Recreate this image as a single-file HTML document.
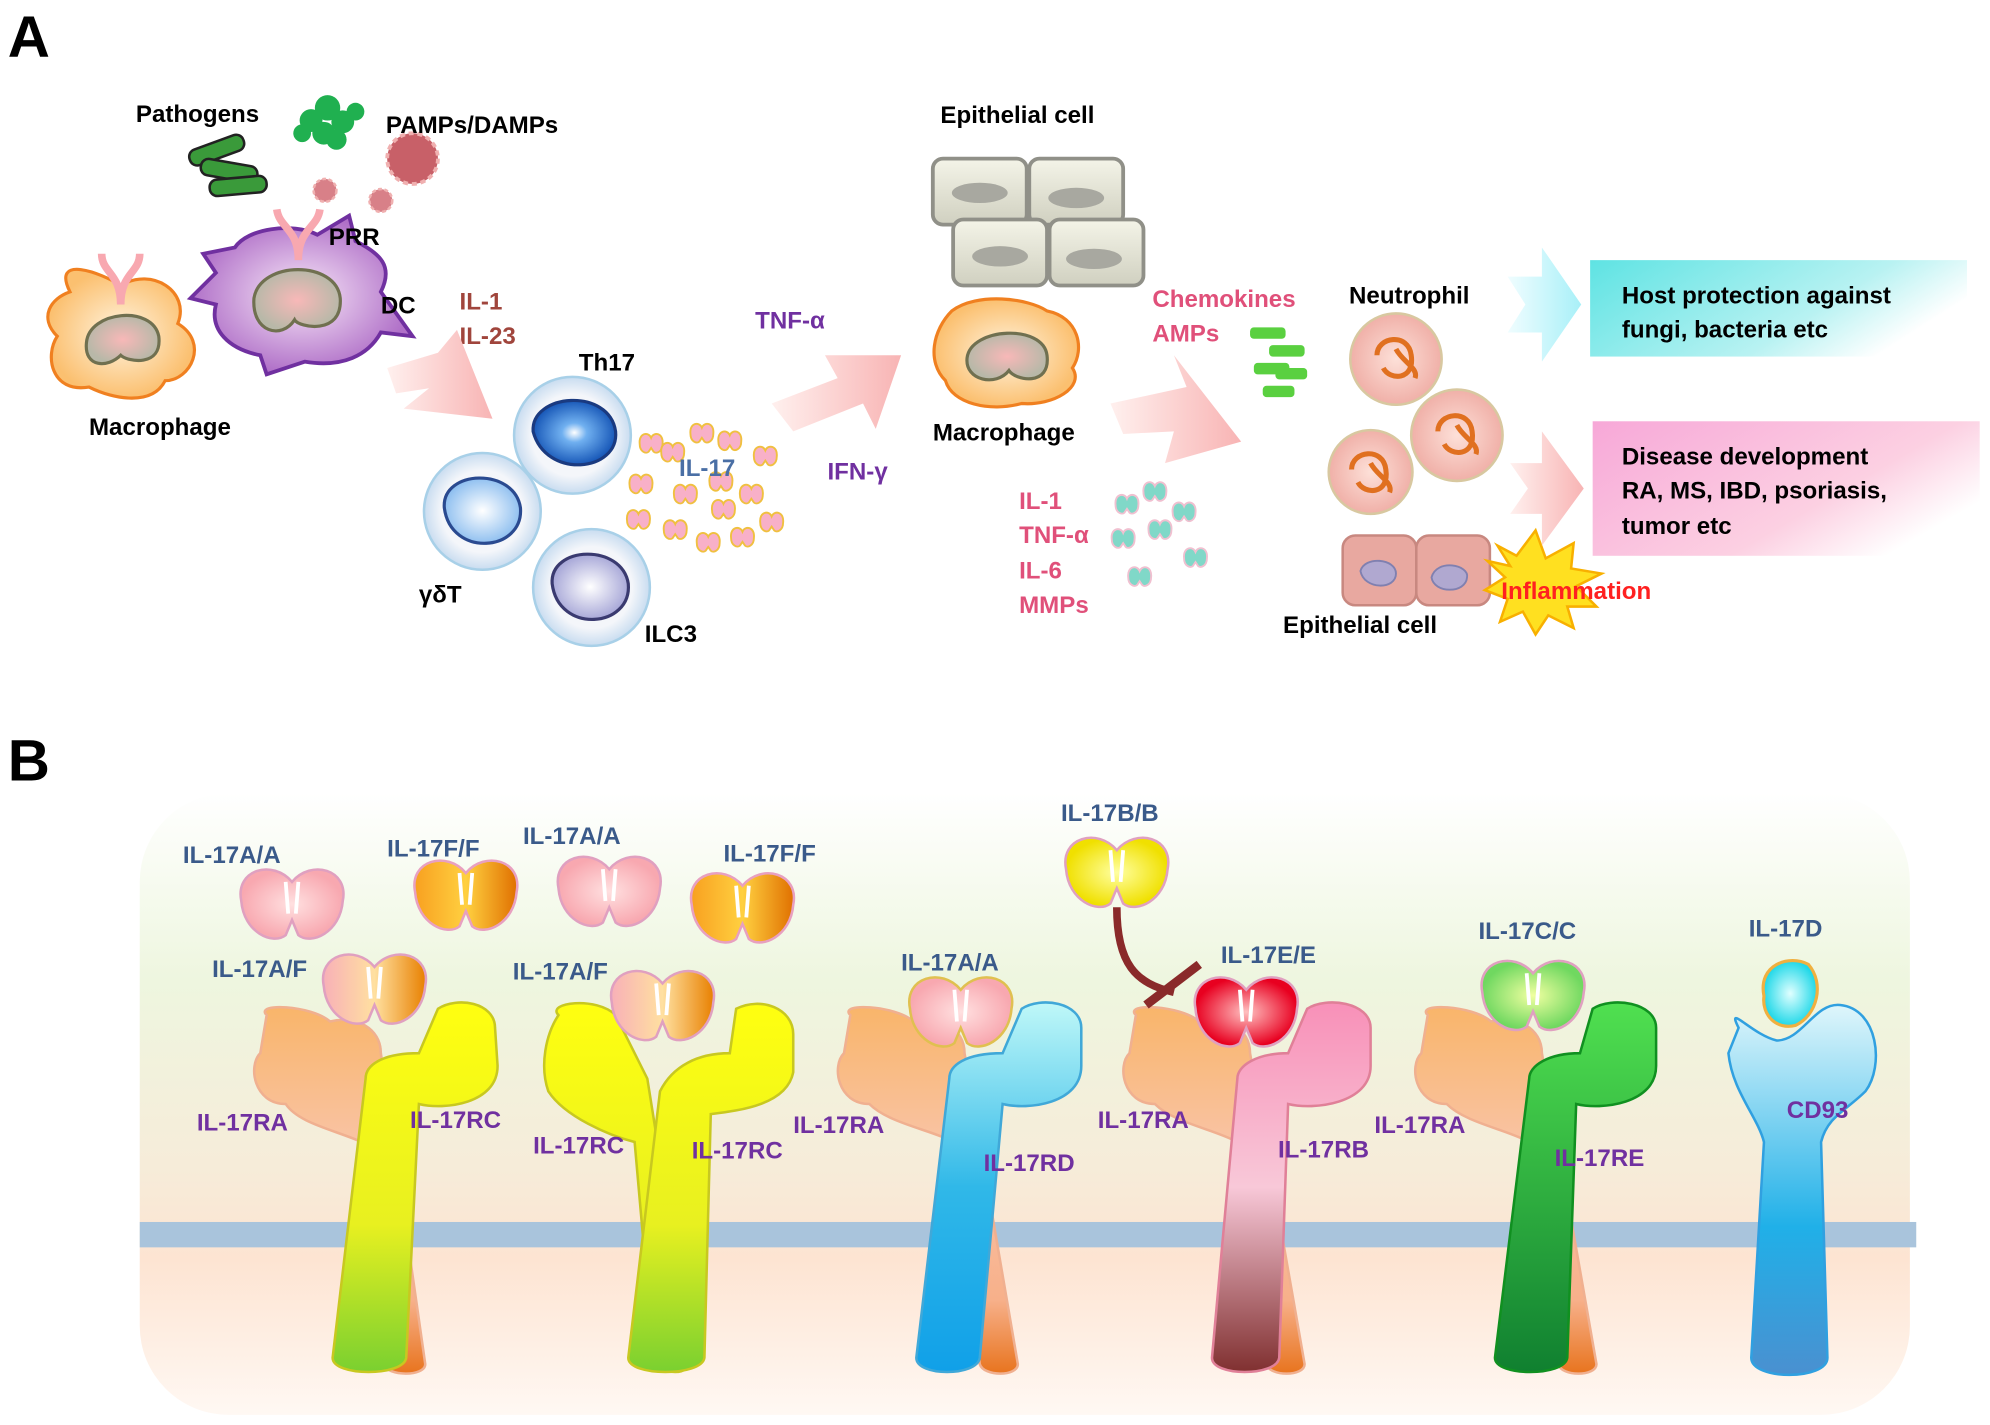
<!DOCTYPE html>
<html><head><meta charset="utf-8"><style>
html,body{margin:0;padding:0;background:#fff;}
svg{display:block;}
text{font-family:"Liberation Sans",Arial,sans-serif;font-weight:bold;}
</style></head><body>
<svg width="1990" height="1425" viewBox="0 0 1568 1123" xmlns="http://www.w3.org/2000/svg">
<defs>
<linearGradient id="bgB" x1="0" y1="0" x2="0" y2="1">
<stop offset="0" stop-color="#ffffff"/><stop offset="0.3" stop-color="#eef6df"/><stop offset="0.6" stop-color="#f6ecd9"/><stop offset="0.75" stop-color="#fde4d2"/><stop offset="1" stop-color="#fff8f3"/></linearGradient>
<linearGradient id="pinkArrow" x1="0" y1="0" x2="1" y2="0"><stop offset="0" stop-color="#fff0ee"/><stop offset="1" stop-color="#f8b4b4"/></linearGradient>
<linearGradient id="cyanArrow" x1="0" y1="0" x2="1" y2="0"><stop offset="0" stop-color="#f0fdff"/><stop offset="1" stop-color="#a8f0f8"/></linearGradient>
<linearGradient id="cyanBox" x1="0" y1="0" x2="1" y2="0.4"><stop offset="0" stop-color="#5ee3e3"/><stop offset="0.7" stop-color="#b8f2f2"/><stop offset="1" stop-color="#ffffff"/></linearGradient>
<linearGradient id="pinkBox" x1="0" y1="0" x2="1" y2="0.6"><stop offset="0" stop-color="#f7a8d8"/><stop offset="0.7" stop-color="#fcd0e2"/><stop offset="1" stop-color="#ffffff"/></linearGradient>
<linearGradient id="ra" x1="0" y1="0" x2="0" y2="1"><stop offset="0" stop-color="#f9b56a"/><stop offset="0.4" stop-color="#f9c4a8"/><stop offset="0.8" stop-color="#f7b08a"/><stop offset="1" stop-color="#e8741e"/></linearGradient>
<linearGradient id="yel" x1="0" y1="0" x2="0" y2="1"><stop offset="0" stop-color="#ffff10"/><stop offset="0.6" stop-color="#e8f020"/><stop offset="1" stop-color="#7ad030"/></linearGradient>
<linearGradient id="blu" x1="0" y1="0" x2="0" y2="1"><stop offset="0" stop-color="#bff8f8"/><stop offset="0.5" stop-color="#30b8e8"/><stop offset="1" stop-color="#10a0e8"/></linearGradient>
<linearGradient id="pnk" x1="0" y1="0" x2="0" y2="1"><stop offset="0" stop-color="#f890b8"/><stop offset="0.5" stop-color="#f8c8d8"/><stop offset="1" stop-color="#803030"/></linearGradient>
<linearGradient id="grn" x1="0" y1="0" x2="0" y2="1"><stop offset="0" stop-color="#50e050"/><stop offset="1" stop-color="#108030"/></linearGradient>
<linearGradient id="cd" x1="0" y1="0" x2="0" y2="1"><stop offset="0" stop-color="#dff6fb"/><stop offset="0.6" stop-color="#20b0e8"/><stop offset="1" stop-color="#4a90d0"/></linearGradient>
<radialGradient id="ligP"><stop offset="0" stop-color="#ffe0e0"/><stop offset="1" stop-color="#f8a8b0"/></radialGradient>
<linearGradient id="ligF" x1="0" y1="0" x2="1" y2="0"><stop offset="0" stop-color="#f8a020"/><stop offset="0.5" stop-color="#ffd040"/><stop offset="1" stop-color="#e07000"/></linearGradient>
<linearGradient id="ligAF" x1="0" y1="0" x2="1" y2="0"><stop offset="0" stop-color="#f8b0b8"/><stop offset="0.5" stop-color="#ffe0a0"/><stop offset="1" stop-color="#e88000"/></linearGradient>
<radialGradient id="ligB"><stop offset="0" stop-color="#ffffa0"/><stop offset="1" stop-color="#f0e000"/></radialGradient>
<radialGradient id="ligE"><stop offset="0" stop-color="#ffc0c0"/><stop offset="1" stop-color="#e80020"/></radialGradient>
<radialGradient id="ligC"><stop offset="0" stop-color="#f0ffa0"/><stop offset="1" stop-color="#70d860"/></radialGradient>
<radialGradient id="ligD"><stop offset="0" stop-color="#e0ffff"/><stop offset="1" stop-color="#20d8e8"/></radialGradient>
<radialGradient id="macro"><stop offset="0" stop-color="#fff4e0"/><stop offset="1" stop-color="#fbc070"/></radialGradient>
<radialGradient id="dc"><stop offset="0" stop-color="#f8e8f8"/><stop offset="1" stop-color="#b070c8"/></radialGradient>
<radialGradient id="nuc"><stop offset="0" stop-color="#f8b8b8"/><stop offset="1" stop-color="#b8b8a8"/></radialGradient>
<radialGradient id="th"><stop offset="0" stop-color="#ffffff"/><stop offset="0.3" stop-color="#70b0f0"/><stop offset="1" stop-color="#1858b8"/></radialGradient>
<radialGradient id="gd"><stop offset="0" stop-color="#ffffff"/><stop offset="1" stop-color="#90c0f0"/></radialGradient>
<radialGradient id="ilc"><stop offset="0" stop-color="#ffffff"/><stop offset="1" stop-color="#a8a8d8"/></radialGradient>
<radialGradient id="cellring"><stop offset="0.7" stop-color="#f4f6fa"/><stop offset="1" stop-color="#c8dcf0"/></radialGradient>
<radialGradient id="neu"><stop offset="0" stop-color="#fde0d8"/><stop offset="1" stop-color="#f0b0a8"/></radialGradient>
<linearGradient id="epi" x1="0" y1="0" x2="0" y2="1"><stop offset="0" stop-color="#f4f4e8"/><stop offset="1" stop-color="#d0d0c0"/></linearGradient>
<g id="lig"><path d="M-40,-5 C-45,-30 -15,-38 0,-20 C15,-38 45,-30 40,-5 C38,20 15,30 5,22 L0,10 L-5,22 C-15,30 -38,20 -40,-5Z" stroke-width="2"/><path d="M-5,-20 L-3,5 M5,-20 L3,5" stroke="#fff" stroke-width="3" fill="none"/></g>
<g id="mini"><path d="M-9,0 C-10,-9 -2,-10 0,-5 C2,-10 10,-9 9,0 C9,6 4,8 2,6 L0,3 L-2,6 C-4,8 -9,6 -9,0Z" fill="#f8b0c8" stroke="#f0c040" stroke-width="1.5"/></g>
<g id="mini2"><path d="M-9,0 C-10,-9 -2,-10 0,-5 C2,-10 10,-9 9,0 C9,6 4,8 2,6 L0,3 L-2,6 C-4,8 -9,6 -9,0Z" fill="#80d8c8" stroke="#f0c0d0" stroke-width="1.5"/></g>
</defs>

<text x="6" y="45" font-size="46">A</text>
<text x="6" y="615" font-size="46">B</text>

<g fill="#3a9a3a" stroke="#222" stroke-width="2">
<rect x="148" y="112" width="45" height="13" rx="6" transform="rotate(-20 170 118)"/>
<rect x="158" y="128" width="45" height="13" rx="6" transform="rotate(10 180 134)"/>
<rect x="165" y="140" width="45" height="13" rx="6" transform="rotate(-5 188 146)"/>
</g>
<g fill="#20b050">
<circle cx="245" cy="95" r="9"/><circle cx="258" cy="85" r="10"/><circle cx="270" cy="96" r="9"/><circle cx="255" cy="105" r="9"/><circle cx="238" cy="105" r="7"/><circle cx="265" cy="110" r="8"/><circle cx="280" cy="88" r="7"/>
</g>
<circle cx="325" cy="125" r="20" fill="#c86068" stroke="#f0b0b0" stroke-width="3" stroke-dasharray="4 3"/>
<circle cx="256" cy="150" r="9" fill="#d88088" stroke="#f0b0b0" stroke-width="2" stroke-dasharray="3 2"/>
<circle cx="300" cy="158" r="9" fill="#d88088" stroke="#f0b0b0" stroke-width="2" stroke-dasharray="3 2"/>
<path d="M55,230 C40,200 80,215 95,225 C120,210 150,230 140,255 C165,270 150,300 130,300 C120,320 90,315 70,305 C40,310 35,280 45,265 C30,250 40,235 55,230Z" fill="url(#macro)" stroke="#f08020" stroke-width="2.5"/>
<path d="M68,270 C70,245 120,240 125,265 C128,290 100,285 95,280 C85,290 66,290 68,270Z" fill="url(#nuc)" stroke="#707050" stroke-width="2.5"/>
<path d="M80,200 C80,215 95,215 95,240 M110,200 C110,215 95,215 95,240" stroke="#f8a8b0" stroke-width="6" fill="none"/>
<path d="M170,215 L160,200 L185,195 C195,180 230,175 250,185 L275,170 L280,190 C300,200 310,210 300,230 L325,265 L300,262 C290,280 270,290 240,285 L210,295 L205,280 C180,275 165,260 170,240 L150,235Z" fill="url(#dc)" stroke="#7030a0" stroke-width="3"/>
<path d="M200,235 C205,205 265,205 268,235 C270,265 235,258 232,252 C222,268 198,262 200,235Z" fill="url(#nuc)" stroke="#707050" stroke-width="2.5"/>
<path d="M218,165 C220,180 235,180 235,205 M252,165 C250,180 235,180 235,205" stroke="#f8a8b0" stroke-width="6" fill="none"/>
<text x="107" y="96" font-size="19">Pathogens</text>
<text x="304" y="105" font-size="19">PAMPs/DAMPs</text>
<text x="259" y="193" font-size="19">PRR</text>
<text x="300" y="247" font-size="19">DC</text>
<text x="70" y="343" font-size="19">Macrophage</text>
<text x="362" y="244" font-size="19" fill="#a0453c">IL-1</text>
<text x="362" y="271" font-size="19" fill="#a0453c">IL-23</text>
<polygon points="305,290 345,278 360,260 388,330 318,322 338,306 312,310" fill="url(#pinkArrow)"/>
<circle cx="451" cy="343" r="46" fill="url(#cellring)" stroke="#a8d0e8" stroke-width="2"/>
<path d="M420,340 C418,310 480,305 485,340 C488,372 430,378 420,340Z" fill="url(#th)" stroke="#1a3a80" stroke-width="2.5"/>
<circle cx="380" cy="403" r="46" fill="url(#cellring)" stroke="#a8d0e8" stroke-width="2"/>
<path d="M350,400 C348,370 405,368 410,400 C413,435 355,440 350,400Z" fill="url(#gd)" stroke="#2a4a90" stroke-width="2.5"/>
<circle cx="466" cy="463" r="46" fill="url(#cellring)" stroke="#a8d0e8" stroke-width="2"/>
<path d="M435,460 C433,430 490,428 495,460 C498,495 440,500 435,460Z" fill="url(#ilc)" stroke="#3a3a70" stroke-width="2.5"/>
<text x="456" y="292" font-size="19">Th17</text>
<text x="330" y="475" font-size="19">γδT</text>
<text x="508" y="506" font-size="19">ILC3</text>
<use href="#mini" x="513" y="350"/><use href="#mini" x="553" y="342"/><use href="#mini" x="575" y="348"/><use href="#mini" x="530" y="357"/><use href="#mini" x="603" y="360"/>
<use href="#mini" x="505" y="382"/><use href="#mini" x="540" y="390"/><use href="#mini" x="568" y="380"/><use href="#mini" x="592" y="390"/>
<use href="#mini" x="503" y="410"/><use href="#mini" x="532" y="418"/><use href="#mini" x="570" y="402"/><use href="#mini" x="608" y="412"/><use href="#mini" x="558" y="428"/><use href="#mini" x="585" y="424"/>
<text x="535" y="375" font-size="19" fill="#4a6fa5">IL-17</text>
<polygon points="608,318 660,298 650,280 710,280 690,338 680,318 625,340" fill="url(#pinkArrow)"/>
<text x="595" y="259" font-size="19" fill="#7030a0">TNF-α</text>
<text x="652" y="378" font-size="19" fill="#7030a0">IFN-γ</text>
<g fill="url(#epi)" stroke="#909088" stroke-width="3">
<rect x="735" y="125" width="74" height="52" rx="8"/><rect x="811" y="125" width="74" height="52" rx="8"/>
<rect x="751" y="173" width="74" height="52" rx="8"/><rect x="827" y="173" width="74" height="52" rx="8"/>
</g>
<g fill="#a8a8a0"><ellipse cx="772" cy="152" rx="22" ry="8"/><ellipse cx="848" cy="156" rx="22" ry="8"/><ellipse cx="788" cy="202" rx="22" ry="8"/><ellipse cx="862" cy="204" rx="22" ry="8"/></g>
<text x="741" y="97" font-size="19">Epithelial cell</text>
<path d="M750,245 C770,230 810,235 825,245 C850,250 855,275 845,290 C855,305 830,320 805,318 C780,325 750,318 745,300 C730,285 735,260 750,245Z" fill="url(#macro)" stroke="#f08020" stroke-width="2.5"/>
<path d="M762,282 C765,258 822,255 825,280 C828,305 800,300 795,292 C785,305 760,300 762,282Z" fill="url(#nuc)" stroke="#707050" stroke-width="2.5"/>
<text x="735" y="347" font-size="19">Macrophage</text>
<polygon points="875,318 935,305 925,280 978,348 918,365 925,340 885,342" fill="url(#pinkArrow)"/>
<text x="908" y="242" font-size="19" fill="#e0507a">Chemokines</text>
<text x="908" y="269" font-size="19" fill="#e0507a">AMPs</text>
<g fill="#5ad040"><rect x="985" y="258" width="28" height="9" rx="3"/><rect x="1000" y="272" width="28" height="9" rx="3"/><rect x="988" y="286" width="28" height="9" rx="3"/><rect x="1005" y="290" width="25" height="9" rx="3"/><rect x="995" y="304" width="25" height="9" rx="3"/></g>
<text x="803" y="401" font-size="19" fill="#e0507a">IL-1</text>
<text x="803" y="428" font-size="19" fill="#e0507a">TNF-α</text>
<text x="803" y="456" font-size="19" fill="#e0507a">IL-6</text>
<text x="803" y="483" font-size="19" fill="#e0507a">MMPs</text>
<use href="#mini2" x="888" y="398"/><use href="#mini2" x="910" y="388"/><use href="#mini2" x="933" y="404"/><use href="#mini2" x="885" y="425"/><use href="#mini2" x="914" y="418"/><use href="#mini2" x="942" y="440"/><use href="#mini2" x="898" y="455"/>
<g stroke="#d8c8a0" stroke-width="2" fill="url(#neu)">
<circle cx="1100" cy="283" r="36"/><circle cx="1148" cy="343" r="36"/><circle cx="1080" cy="372" r="33"/>
</g>
<g stroke="#e07020" stroke-width="4" fill="none">
<path d="M1085,280 C1085,265 1110,262 1112,280 C1115,300 1095,300 1090,290 M1100,275 C1105,285 1118,290 1115,298"/>
<path d="M1133,340 C1133,325 1158,322 1160,340 C1163,360 1143,360 1138,350 M1148,335 C1153,345 1166,350 1163,358"/>
<path d="M1065,370 C1065,355 1090,352 1092,370 C1095,390 1075,390 1070,380 M1080,365 C1085,375 1098,380 1095,388"/>
</g>
<text x="1063" y="239" font-size="19">Neutrophil</text>
<g fill="#e8a8a0" stroke="#c88880" stroke-width="2">
<rect x="1058" y="422" width="58" height="55" rx="10"/><rect x="1116" y="422" width="58" height="55" rx="10"/>
</g>
<g fill="#b0a8d0" stroke="#8080b0" stroke-width="1.5"><path d="M1072,450 C1075,438 1100,440 1100,452 C1100,465 1075,465 1072,450Z"/><path d="M1128,455 C1132,440 1158,445 1156,455 C1155,468 1130,468 1128,455Z"/></g>
<polygon points="1180,430 1195,438 1210,418 1218,440 1240,428 1238,448 1262,452 1242,462 1258,478 1235,478 1240,495 1220,485 1210,500 1200,482 1182,490 1188,472 1170,465 1186,455 1172,442 1190,446" fill="#ffe020" stroke="#f8b000" stroke-width="2"/>
<text x="1183" y="472" font-size="19" fill="#ff2020">Inflammation</text>
<text x="1011" y="499" font-size="19">Epithelial cell</text>
<polygon points="1188,218 1215,218 1215,195 1246,240 1215,285 1215,262 1188,262 1202,240" fill="url(#cyanArrow)"/>
<polygon points="1190,365 1215,365 1215,340 1248,385 1215,430 1215,405 1190,405 1204,385" fill="url(#pinkArrow)"/>
<rect x="1253" y="205" width="297" height="76" fill="url(#cyanBox)"/>
<text x="1278" y="239" font-size="19">Host protection against</text>
<text x="1278" y="266" font-size="19">fungi, bacteria etc</text>
<rect x="1255" y="332" width="305" height="106" fill="url(#pinkBox)"/>
<text x="1278" y="366" font-size="19">Disease development</text>
<text x="1278" y="393" font-size="19">RA, MS, IBD, psoriasis,</text>
<text x="1278" y="421" font-size="19">tumor etc</text>

<rect x="110" y="625" width="1395" height="490" rx="70" fill="url(#bgB)"/>
<rect x="110" y="963" width="1400" height="20" fill="#a9c4dc"/>

<g stroke-width="2">
<path d="M210,800 C200,790 245,792 260,805 C280,800 300,810 300,830 L335,1075 C335,1085 305,1085 302,1075 L285,900 C262,890 235,885 225,870 C200,870 195,840 205,830 Z" fill="url(#ra)" stroke="#f0b090"/>
<path d="M345,795 C360,785 390,790 390,810 L392,840 C392,870 350,875 330,870 L320,1070 C318,1085 262,1085 262,1070 L288,850 C288,840 300,830 330,830 Z" fill="url(#yel)" stroke="#c8c820"/>
<path d="M440,800 C430,790 470,785 485,800 L510,850 L545,1070 C545,1085 520,1085 515,1070 L500,900 C480,895 445,880 432,860 C425,840 430,815 440,800Z" fill="url(#yel)" stroke="#c8c820"/>
<path d="M580,795 C600,785 625,795 625,815 L625,845 C620,870 585,875 560,878 L555,1070 C553,1085 495,1085 495,1070 L520,860 C530,840 550,830 575,830 Z" fill="url(#yel)" stroke="#c8c820"/>
<path d="M670,800 C660,790 705,792 720,805 C740,800 760,810 760,830 L802,1075 C802,1085 775,1085 772,1075 L752,900 C732,890 700,885 685,870 C660,870 655,840 665,830 Z" fill="url(#ra)" stroke="#f0b090"/>
<path d="M805,795 C820,785 852,790 852,810 L852,840 C852,870 810,875 790,870 L772,1070 C770,1085 722,1085 722,1070 L748,850 C748,840 760,830 790,830 Z" fill="url(#blu)" stroke="#40a8d8"/>
<path d="M895,800 C885,790 930,792 945,805 C965,800 985,810 985,830 L1028,1075 C1028,1085 1000,1085 998,1075 L975,900 C957,890 925,885 910,870 C885,870 880,840 890,830 Z" fill="url(#ra)" stroke="#f0b090"/>
<path d="M1030,795 C1045,785 1080,790 1080,810 L1080,840 C1080,870 1035,875 1015,870 L1008,1070 C1006,1085 955,1085 955,1070 L975,850 C975,840 990,830 1015,830 Z" fill="url(#pnk)" stroke="#e08098"/>
<path d="M1125,800 C1115,790 1160,792 1175,805 C1195,800 1215,810 1215,830 L1258,1075 C1258,1085 1230,1085 1228,1075 L1205,900 C1187,890 1155,885 1140,870 C1115,870 1110,840 1120,830 Z" fill="url(#ra)" stroke="#f0b090"/>
<path d="M1255,795 C1270,785 1305,790 1305,810 L1305,840 C1305,870 1262,875 1242,870 L1235,1070 C1233,1085 1178,1085 1178,1070 L1205,850 C1205,840 1220,830 1245,830 Z" fill="url(#grn)" stroke="#109020"/>
<path d="M1370,810 C1360,790 1380,815 1400,820 C1420,820 1430,790 1450,792 C1480,795 1485,840 1470,860 C1455,875 1440,880 1435,900 L1440,1070 C1440,1088 1380,1088 1380,1070 L1390,900 C1385,880 1365,860 1362,830 Z" fill="url(#cd)" stroke="#30a0e0"/>
</g>

<use href="#lig" x="230" y="715" fill="url(#ligP)" stroke="#e0a0c0"/>
<use href="#lig" x="367" y="708" fill="url(#ligF)" stroke="#e8a0c0"/>
<use href="#lig" x="480" y="705" fill="url(#ligP)" stroke="#e0a0c0"/>
<use href="#lig" x="585" y="718" fill="url(#ligF)" stroke="#e8a0c0"/>
<use href="#lig" x="295" y="782" fill="url(#ligAF)" stroke="#e0a0c0"/>
<use href="#lig" x="522" y="795" fill="url(#ligAF)" stroke="#e0a0c0"/>
<use href="#lig" x="757" y="800" fill="url(#ligP)" stroke="#e0c050"/>
<use href="#lig" x="880" y="690" fill="url(#ligB)" stroke="#e0a0c0"/>
<use href="#lig" x="982" y="800" fill="url(#ligE)" stroke="#e0a0c0"/>
<use href="#lig" x="1208" y="787" fill="url(#ligC)" stroke="#e0a0c0"/>
<path d="M1390,785 C1385,760 1410,752 1425,760 C1438,775 1432,800 1415,808 C1400,812 1388,800 1390,785Z" fill="url(#ligD)" stroke="#f0b040" stroke-width="2.5"/>
<path d="M880,715 C880,760 895,775 925,782" stroke="#8a2a2a" stroke-width="6" fill="none"/>
<path d="M903,792 L945,760" stroke="#8a2a2a" stroke-width="7"/>

<g font-size="19" fill="#3a5a8a">
<text x="144" y="680">IL-17A/A</text><text x="305" y="675">IL-17F/F</text><text x="412" y="665">IL-17A/A</text><text x="570" y="679">IL-17F/F</text>
<text x="167" y="770">IL-17A/F</text><text x="404" y="772">IL-17A/F</text><text x="710" y="765">IL-17A/A</text>
<text x="836" y="647">IL-17B/B</text><text x="962" y="759">IL-17E/E</text><text x="1165" y="740">IL-17C/C</text><text x="1378" y="738">IL-17D</text>
</g>
<g font-size="19" fill="#7030a0">
<text x="155" y="891">IL-17RA</text><text x="323" y="889">IL-17RC</text><text x="420" y="909">IL-17RC</text><text x="545" y="913">IL-17RC</text>
<text x="625" y="893">IL-17RA</text><text x="775" y="923">IL-17RD</text><text x="865" y="889">IL-17RA</text><text x="1007" y="912">IL-17RB</text>
<text x="1083" y="893">IL-17RA</text><text x="1225" y="919">IL-17RE</text><text x="1408" y="881">CD93</text>
</g>
</svg>
</body></html>
